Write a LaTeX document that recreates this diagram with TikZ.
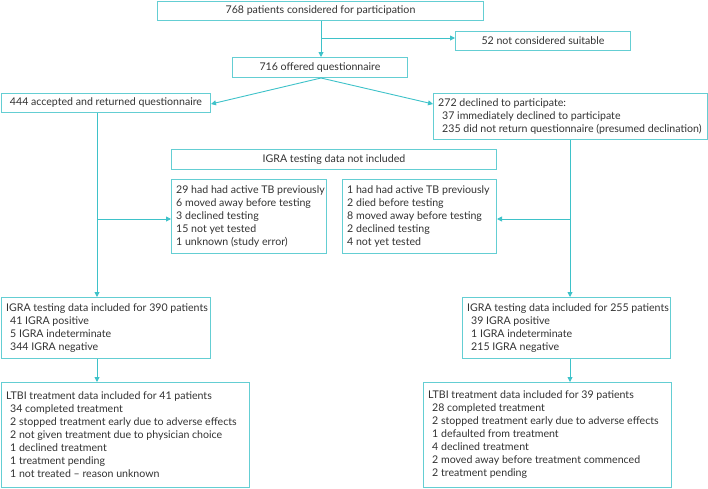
\documentclass[tikz,border=0pt]{standalone}
\usepackage{fontspec}
\setmainfont{Lato}
\usetikzlibrary{arrows.meta,calc}
\definecolor{ln}{RGB}{62,194,201}
\definecolor{bx}{RGB}{100,206,211}
\definecolor{tx}{RGB}{50,50,50}
\begin{document}
\begin{tikzpicture}[x=1pt,y=-1pt,
  every node/.style={font=\fontsize{10.6}{13}\selectfont, text=tx},
  box/.style={draw=bx, line width=1pt, inner sep=0pt, anchor=north west},
  conn/.style={draw=ln, line width=0.9pt, -{Triangle[length=5pt,width=5pt]}}]
\useasboundingbox (0,0) rectangle (708,488);
\newcommand{\bx}[6]{% name, x1,y1,x2,y2, text
  \node[box, minimum width=#4-#2, minimum height=#5-#3] (#1) at (#2,#3) {#6};}
\newcommand{\lbx}[7]{% name, x1,y1,x2,y2, indent, text
  \node[box, minimum width=#4-#2, minimum height=#5-#3] (#1) at (#2,#3) {};
  \node[anchor=west, align=left, inner sep=0pt] at ($(#1.west)+(#6,0)$) {#7};}
\bx{b1}{157}{1}{483}{20}{768 patients considered for participation}
\bx{b52}{455}{31}{630}{50}{52 not considered suitable}
\bx{b716}{232}{57}{407}{77}{716 offered questionnaire}
\bx{b444}{1}{93}{210}{112}{444 accepted and returned questionnaire}
\lbx{b272}{433}{93}{707}{139}{5}{272 declined to participate:\\\hspace{4pt}37 immediately declined to participate\\\hspace{4pt}235 did not return questionnaire (presumed declination)}
\bx{bnot}{171}{149}{496}{169}{IGRA testing data not included}
\lbx{bexL}{171}{179}{326}{253}{5}{29 had had active TB previously\\6 moved away before testing\\3 declined testing\\15 not yet tested\\1 unknown (study error)}
\lbx{bexR}{342}{179}{496}{253}{5}{1 had had active TB previously\\2 died before testing\\8 moved away before testing\\2 declined testing\\4 not yet tested}
\lbx{bigL}{1}{297}{210}{358}{5}{IGRA testing data included for 390 patients\\\hspace{4pt}41 IGRA positive\\\hspace{4pt}5 IGRA indeterminate\\\hspace{4pt}344 IGRA negative}
\lbx{bigR}{462}{297}{670}{358}{5}{IGRA testing data included for 255 patients\\\hspace{4pt}39 IGRA positive\\\hspace{4pt}1 IGRA indeterminate\\\hspace{4pt}215 IGRA negative}
\lbx{bltL}{1}{382}{249}{487}{5}{LTBI treatment data included for 41 patients\\\hspace{4pt}34 completed treatment\\\hspace{4pt}2 stopped treatment early due to adverse effects\\\hspace{4pt}2 not given treatment due to physician choice\\\hspace{4pt}1 declined treatment\\\hspace{4pt}1 treatment pending\\\hspace{4pt}1 not treated – reason unknown}
\lbx{bltR}{423}{382}{671}{487}{5}{LTBI treatment data included for 39 patients\\\hspace{4pt}28 completed treatment\\\hspace{4pt}2 stopped treatment early due to adverse effects\\\hspace{4pt}1 defaulted from treatment\\\hspace{4pt}4 declined treatment\\\hspace{4pt}2 moved away before treatment commenced\\\hspace{4pt}2 treatment pending}
% connectors
\coordinate (xc) at (321,0);
\coordinate (xl) at (97,0);
\coordinate (xr) at (570,0);
\coordinate (j1) at (321,38);
\coordinate (jl) at (97,219);
\coordinate (jr) at (570,219);
\draw[conn] (b1.south -| xc) -- (b716.north -| xc);
\draw[conn] (j1) -- (j1 -| b52.west);
\draw[conn] (b716.south -| xc) -- ($(b444.east)+(0,1)$);
\draw[conn] (b716.south -| xc) -- (b272.west |- 0,104);
\draw[conn] (b444.south -| xl) -- (bigL.north -| xl);
\draw[conn] (jl) -- (jl -| bexL.west);
\draw[conn] (b272.south -| xr) -- (bigR.north -| xr);
\draw[conn] (jr) -- (jr -| bexR.east);
\draw[conn] (bigL.south -| xl) -- (bltL.north -| xl);
\draw[conn] (bigR.south -| xr) -- (bltR.north -| xr);
\end{tikzpicture}
\end{document}
